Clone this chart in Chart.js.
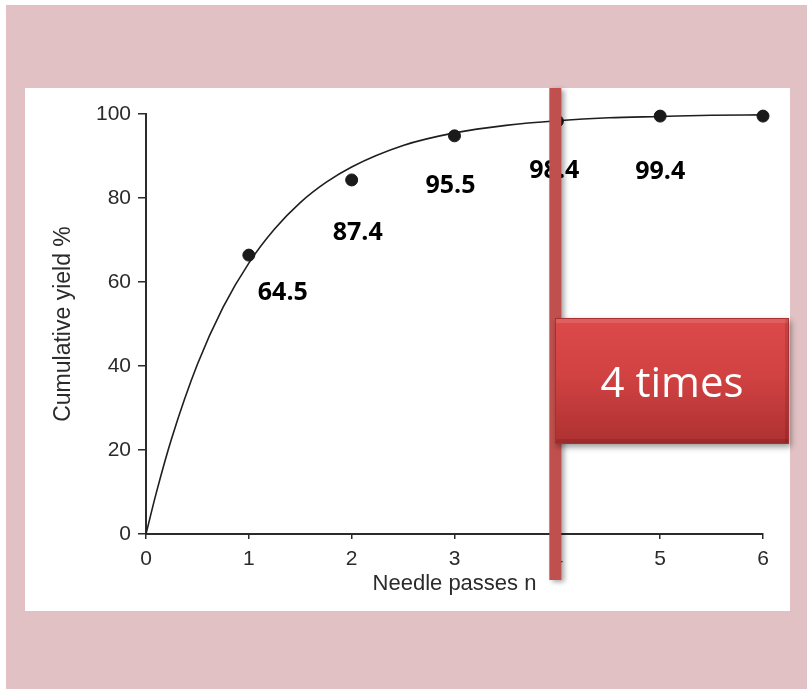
<!DOCTYPE html>
<html>
<head>
<meta charset="utf-8">
<script src="https://cdn.jsdelivr.net/npm/chart.js@4/dist/chart.umd.min.js"></script>
<style>
  html, body { margin: 0; padding: 0; background: #e1c1c3; }
  canvas { display: block; }
</style>
</head>
<body>
<canvas id="chart" width="807" height="689"></canvas>
<script>
const passes        = [1, 2, 3, 4, 5, 6]
const measuredYield = [66.4, 84.3, 94.8, 98.3, 99.5, 99.5]

// fitted curve
const fitPasses = [0, 0.1, 0.25, 0.5, 0.75, 1, 1.25, 1.5, 1.75, 2, 2.5, 3, 3.5, 4, 4.5, 5, 5.5, 6]
const fitYield  = [0, 9.8, 22.8, 40.4, 54.0, 64.5, 72.6, 78.9, 83.7, 87.4, 92.5, 95.5, 97.3, 98.4, 99.1, 99.4, 99.7, 99.8]

// bold value labels written under the dots
const labelPasses = [1, 2, 3, 4, 5]
const labelTexts  = ["64.5", "87.4", "95.5", "98.4", "99.4"]

const xTicks = [0, 1, 2, 3, 4, 5, 6]
const yTicks = [0, 20, 40, 60, 80, 100]

const markedPass  = 4
const calloutText = "4 times"

// label offsets from their dot, in pixels
const labelOffsets = [[34, 38], [6, 53], [-4, 50], [-3, 50], [0, 56]]

const axisColor = "#2b2b2b"

const backgroundPlugin = {
  id: "background",
  beforeDraw(chart) {
    const ctx = chart.ctx
    ctx.save()
    ctx.fillStyle = "#e1c1c3"
    ctx.fillRect(0, 0, chart.width, chart.height)
    // thin white strips on top and left edges
    ctx.fillStyle = "#ffffff"
    ctx.fillRect(0, 0, chart.width, 5)
    ctx.fillRect(0, 0, 6, chart.height)
    // white plot panel
    ctx.fillRect(25, 88, 765, 523)
    ctx.restore()
  }
}

const valueLabels = {
  id: "valueLabels",
  afterDatasetsDraw(chart) {
    const { ctx, scales: { x, y } } = chart
    ctx.save()
    ctx.fillStyle = "#000000"
    ctx.font = "bold 25px 'Open Sans'"
    ctx.textAlign = "center"
    ctx.textBaseline = "middle"
    labelPasses.forEach((p, i) => {
      const idx = passes.indexOf(p)
      const px = x.getPixelForValue(p) + labelOffsets[i][0]
      const py = y.getPixelForValue(measuredYield[idx]) + labelOffsets[i][1]
      ctx.fillText(labelTexts[i], px, py)
    })
    ctx.restore()
  }
}

const markerPlugin = {
  id: "marker",
  afterDraw(chart) {
    const { ctx, scales: { x } } = chart
    const cx = x.getPixelForValue(markedPass) - 2
    ctx.save()
    // vertical red bar
    ctx.shadowColor = "rgba(0,0,0,0.35)"
    ctx.shadowBlur = 5
    ctx.shadowOffsetX = 3
    ctx.shadowOffsetY = 2
    ctx.fillStyle = "#c0504d"
    ctx.fillRect(cx - 6, 88, 12, 492)
    ctx.restore()

    // callout box
    const bx = 555, by = 318, bw = 234, bh = 126
    ctx.save()
    ctx.shadowColor = "rgba(0,0,0,0.4)"
    ctx.shadowBlur = 6
    ctx.shadowOffsetX = 2
    ctx.shadowOffsetY = 3
    const g = ctx.createLinearGradient(0, by, 0, by + bh)
    g.addColorStop(0, "#dc4a4a")
    g.addColorStop(0.45, "#d24242")
    g.addColorStop(1, "#ad3131")
    ctx.fillStyle = g
    ctx.fillRect(bx, by, bw, bh)
    ctx.restore()
    ctx.save()
    // bevel edges
    ctx.fillStyle = "rgba(255,255,255,0.12)"
    ctx.fillRect(bx, by, bw, 5)
    ctx.fillStyle = "rgba(0,0,0,0.10)"
    ctx.fillRect(bx, by + bh - 5, bw, 5)
    ctx.fillRect(bx + bw - 4, by, 4, bh)
    ctx.strokeStyle = "#a83030"
    ctx.lineWidth = 1
    ctx.strokeRect(bx + 0.5, by + 0.5, bw - 1, bh - 1)
    ctx.fillStyle = "#ffffff"
    ctx.font = "42px 'Open Sans'"
    ctx.textAlign = "center"
    ctx.textBaseline = "middle"
    ctx.fillText(calloutText, bx + bw / 2, by + bh / 2 + 4)
    ctx.restore()
  }
}

new Chart(document.getElementById("chart"), {
  type: "scatter",
  data: {
    datasets: [
      {
        label: "Fit",
        data: fitPasses.map((p, i) => ({ x: p, y: fitYield[i] })),
        showLine: true,
        borderColor: "#1e1e1e",
        borderWidth: 1.6,
        pointRadius: 0,
        cubicInterpolationMode: "monotone",
        clip: false,
        order: 2
      },
      {
        label: "Measured",
        data: passes.map((p, i) => ({ x: p, y: measuredYield[i] })),
        backgroundColor: "#1a1a1a",
        borderColor: "#1a1a1a",
        pointRadius: 6,
        clip: false,
        order: 1
      }
    ]
  },
  options: {
    responsive: false,
    animation: false,
    devicePixelRatio: 1,
    layout: { padding: { left: 0, top: 114, right: 44, bottom: 92 } },
    plugins: {
      legend: { display: false },
      tooltip: { enabled: false }
    },
    scales: {
      x: {
        type: "linear",
        min: 0,
        max: 6,
        afterFit(scale) { scale.height = 63 },
        afterBuildTicks(scale) { scale.ticks = xTicks.map(v => ({ value: v })) },
        grid: { drawOnChartArea: false, drawTicks: true, tickLength: 5, color: axisColor, lineWidth: 1.5 },
        border: { display: true, color: axisColor, width: 2 },
        ticks: { color: axisColor, font: { family: "'Liberation Sans', Arial", size: 21 }, padding: 8 },
        title: {
          display: true,
          text: "Needle passes n",
          color: axisColor,
          font: { family: "'Liberation Sans', Arial", size: 22 },
          padding: { top: 0, bottom: 0 }
        }
      },
      y: {
        type: "linear",
        min: 0,
        max: 100,
        afterFit(scale) { scale.width = 146 },
        afterBuildTicks(scale) { scale.ticks = yTicks.map(v => ({ value: v })) },
        grid: { drawOnChartArea: false, drawTicks: true, tickLength: 8, color: axisColor, lineWidth: 1.5 },
        border: { display: true, color: axisColor, width: 2 },
        ticks: { color: axisColor, font: { family: "'Liberation Sans', Arial", size: 21 }, padding: 7 },
        title: {
          display: true,
          text: "Cumulative yield %",
          color: axisColor,
          font: { family: "'Liberation Sans', Arial", size: 23 },
          padding: { top: 50, bottom: 0 }
        }
      }
    }
  },
  plugins: [backgroundPlugin, valueLabels, markerPlugin]
})
</script>
</body>
</html>
